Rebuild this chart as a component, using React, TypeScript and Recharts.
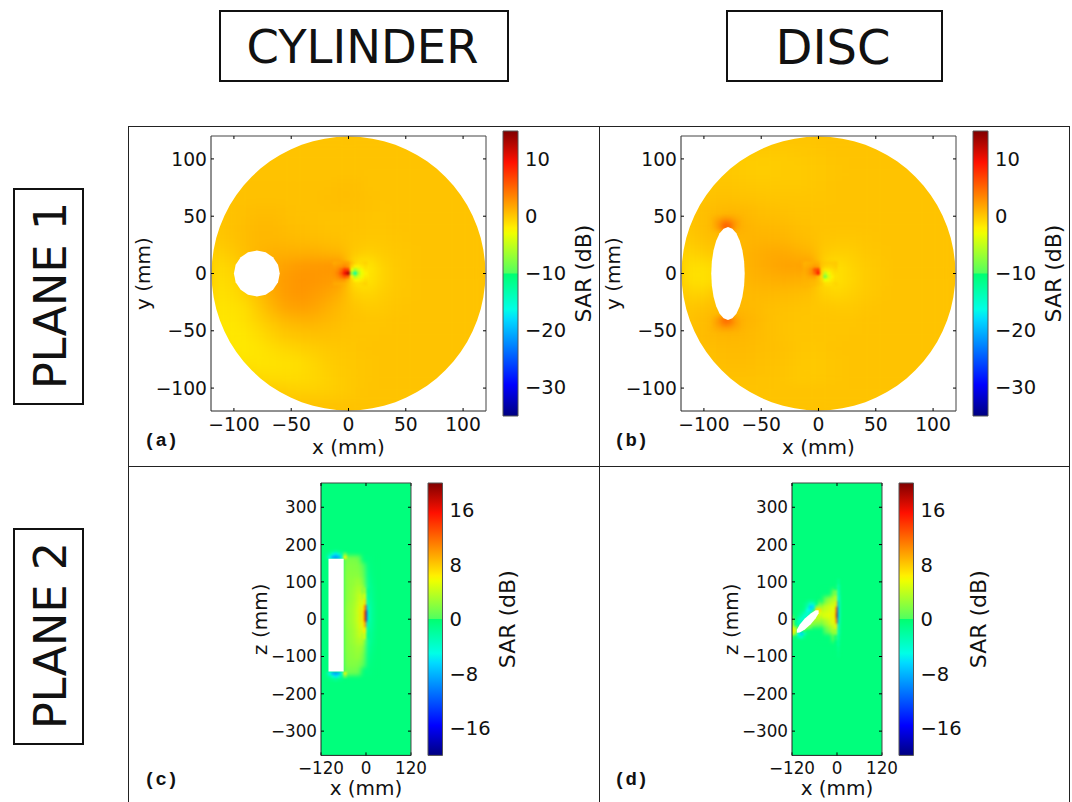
import React from 'react';
import { ScatterChart, Scatter, XAxis, YAxis } from 'recharts';

// jet colour map, split a little at the middle like the figure
const jetPos = [0, 0.11, 0.34, 0.375, 0.4999, 0.5001, 0.64, 0.66, 0.89, 1];
const jetHex = ['#000080', '#0000ff', '#00dbff', '#00ffe6', '#00ff70', '#50ff60', '#eeff00', '#fff000', '#ff1000', '#800000'];

const topTicks = [-100, -50, 0, 50, 100];
const sideTicks = [-120, 0, 120];
const zTicks = [-300, -200, -100, 0, 100, 200, 300];
const barTicksTop = [-30, -20, -10, 0, 10];
const barTicksSide = [-16, -8, 0, 8, 16];

// outlines, in mm
const discMask = [
  [119.5, 0], [119.05, 10.42], [117.68, 20.75], [115.43, 30.93], [112.29, 40.87], [108.3, 50.5], [103.49, 59.75], [97.89, 68.54], [91.54, 76.81],
  [84.5, 84.5], [76.81, 91.54], [68.54, 97.89], [59.75, 103.49], [50.5, 108.3], [40.87, 112.29], [30.93, 115.43], [20.75, 117.68], [10.42, 119.05],
  [0, 119.5], [-10.42, 119.05], [-20.75, 117.68], [-30.93, 115.43], [-40.87, 112.29], [-50.5, 108.3], [-59.75, 103.49], [-68.54, 97.89], [-76.81, 91.54],
  [-84.5, 84.5], [-91.54, 76.81], [-97.89, 68.54], [-103.49, 59.75], [-108.3, 50.5], [-112.29, 40.87], [-115.43, 30.93], [-117.68, 20.75], [-119.05, 10.42],
  [-119.5, 0], [-119.05, -10.42], [-117.68, -20.75], [-115.43, -30.93], [-112.29, -40.87], [-108.3, -50.5], [-103.49, -59.75], [-97.89, -68.54], [-91.54, -76.81],
  [-84.5, -84.5], [-76.81, -91.54], [-68.54, -97.89], [-59.75, -103.49], [-50.5, -108.3], [-40.87, -112.29], [-30.93, -115.43], [-20.75, -117.68], [-10.42, -119.05],
  [0, -119.5], [10.42, -119.05], [20.75, -117.68], [30.93, -115.43], [40.87, -112.29], [50.5, -108.3], [59.75, -103.49], [68.54, -97.89], [76.81, -91.54],
  [84.5, -84.5], [91.54, -76.81], [97.89, -68.54], [103.49, -59.75], [108.3, -50.5], [112.29, -40.87], [115.43, -30.93], [117.68, -20.75], [119.05, -10.42],
  [119.5, 0], [120, 0], [120, -120], [-120, -120], [-120, 120], [120, 120], [120, 0],
];
const squareBase = [[-120, 120], [120, 120], [120, -120], [-120, -120]];
const stripBase = [[-120, 365], [120, 365], [120, -365], [-120, -365]];
const holeA = [
  [-60, 0], [-61.5, 7.7], [-65.9, 14.1], [-72.3, 18.5], [-80, 20], [-87.7, 18.5], [-94.1, 14.1], [-98.5, 7.7],
  [-100, 0], [-98.5, -7.7], [-94.1, -14.1], [-87.7, -18.5], [-80, -20], [-72.3, -18.5], [-65.9, -14.1], [-61.5, -7.7],
];
const holeB = [
  [-64.4, 0], [-64.9, 10.5], [-66.4, 20.3], [-68.7, 28.6], [-71.7, 35.1], [-75.2, 39.1], [-79, 40.5], [-82.8, 39.1], [-86.3, 35.1], [-89.3, 28.6], [-91.6, 20.3], [-93.1, 10.5],
  [-93.6, 0], [-93.1, -10.5], [-91.6, -20.3], [-89.3, -28.6], [-86.3, -35.1], [-82.8, -39.1], [-79, -40.5], [-75.2, -39.1], [-71.7, -35.1], [-68.7, -28.6], [-66.4, -20.3], [-64.9, -10.5],
];
const holeC = [[-100, 162], [-59.5, 162], [-59.5, -140], [-100, -140]];
const holeD = [
  [-49, 24], [-56.9, 23.8], [-70.3, 15.6], [-85.9, 1.6], [-99.3, -14.4], [-107.1, -28.2],
  [-107, -36], [-99.1, -35.8], [-85.7, -27.6], [-70.1, -13.6], [-56.7, 2.4], [-48.9, 16.2],
];

// plane 1 coarse grid (dB)
const coarseX = [-114, -102, -90, -78, -66, -54, -42, -30, -18, -6, 6, 18, 30, 42, 54, 66, 78, 90, 102, 114];
const coarseY = [114, 102, 90, 78, 66, 54, 42, 30, 18, 6, -6, -18, -30, -42, -54, -66, -78, -90, -102, -114];
const sarA = [
  [.3, .3, .3, .3, .3, .3, .3, .3, .3, .3, .3, .3, .3, .3, .3, .3, .3, .3, .3, .3],
  [.3, .3, .3, .3, .3, .3, .3, .3, .3, .3, .3, .3, .3, .3, .3, .3, .3, .3, .3, .3],
  [.3, .3, .3, .3, .3, .3, .3, .3, .3, .3, .3, .3, .3, .3, .3, .3, .3, .3, .3, .3],
  [.3, .3, .4, .4, .4, .4, .4, .4, .4, .5, .5, .3, .3, .3, .3, .3, .3, .3, .3, .3],
  [.3, .4, .4, .4, .4, .4, .4, .4, .5, .6, .5, .4, .3, .3, .3, .3, .3, .3, .3, .3],
  [.3, .4, .5, .6, .6, .5, .4, .4, .4, .4, .4, .3, .2, .3, .3, .3, .3, .3, .3, .3],
  [.2, .4, .6, .8, .8, .6, .5, .4, .3, .3, .3, .2, .2, .3, .3, .3, .3, .3, .3, .3],
  [.1, .3, .6, .9, .9, .8, .7, .6, .5, .4, .2, .1, .1, .2, .3, .3, .3, .3, .3, .3],
  [-.3, 0, .5, 1, 1.3, 1.3, 1.3, 1.3, 1.1, .9, 0, -.3, -.1, .1, .2, .3, .3, .3, .3, .3],
  [-.8, -.5, .2, 1, 1.6, 2.1, 2.4, 2.5, 2.6, 2.9, -1.5, -1.6, -.5, 0, .2, .3, .3, .3, .3, .3],
  [-1, -.8, 0, .9, 1.8, 2.4, 2.7, 2.6, 2.4, 2.2, -1.5, -1.4, -.5, 0, .2, .3, .3, .3, .3, .3],
  [-1.2, -1, -.4, .5, 1.6, 2.3, 2.6, 2.3, 1.9, 1.2, -.3, -.6, -.2, .1, .2, .3, .3, .3, .3, .3],
  [-1.4, -1.3, -1, 0, 1.1, 1.9, 2.1, 1.9, 1.3, .7, .2, -.1, 0, .2, .3, .3, .3, .3, .3, .3],
  [-1.5, -1.5, -1.2, -.5, .2, .8, 1.1, 1.1, .8, .5, .3, .2, .2, .3, .3, .3, .3, .3, .3, .3],
  [-1.3, -1.6, -1.5, -1, -.4, .1, .3, .4, .4, .3, .2, .2, .3, .3, .3, .3, .3, .3, .3, .3],
  [-1, -1.5, -1.6, -1.4, -1, -.7, -.4, -.2, 0, .1, .2, .3, .3, .3, .3, .3, .3, .3, .3, .3],
  [-.8, -1.1, -1.3, -1.4, -1.3, -1.2, -1, -.6, -.2, 0, .1, .2, .3, .3, .3, .3, .3, .3, .3, .3],
  [.2, -.2, -.6, -.9, -1, -1, -.9, -.7, -.4, -.1, .1, .2, .3, .3, .3, .3, .3, .3, .3, .3],
  [.3, .3, .2, 0, -.1, -.3, -.4, -.4, -.3, -.1, .1, .3, .3, .3, .3, .3, .3, .3, .3, .3],
  [.3, .3, .3, .3, .3, .3, .3, .3, .3, .3, .3, .3, .3, .3, .3, .3, .3, .3, .3, .3],
];
const sarB = [
  [.3, .3, .3, .3, .3, .2, .2, .2, .2, .2, .3, .3, .3, .3, .3, .3, .3, .3, .3, .3],
  [.2, .1, 0, -.1, -.1, -.1, -.1, -.1, 0, .1, .2, .3, .3, .3, .3, .3, .3, .3, .3, .3],
  [.2, .1, 0, 0, -.1, -.2, -.2, -.1, -.1, 0, .1, .2, .3, .3, .3, .3, .3, .3, .3, .3],
  [.3, .2, .2, .2, .1, 0, 0, 0, 0, .1, .2, .3, .3, .3, .3, .3, .3, .3, .3, .3],
  [.3, .3, .4, .4, .3, .3, .2, .2, .2, .2, .2, .3, .3, .3, .3, .3, .3, .3, .3, .3],
  [.3, .5, .7, .9, .8, .6, .5, .4, .3, .3, .3, .3, .3, .3, .3, .3, .3, .3, .3, .3],
  [.2, .5, .9, 1.5, 1.2, .9, .8, .7, .5, .4, .3, .3, .3, .3, .3, .3, .3, .3, .3, .3],
  [0, .3, .6, .9, 1, 1.1, 1.1, 1, .7, .5, .2, .1, .1, .2, .3, .3, .3, .3, .3, .3],
  [-.5, -.2, .1, .6, 1, 1.4, 1.6, 1.6, 1.3, 1, -.1, -.3, -.2, .1, .2, .3, .3, .3, .3, .3],
  [-1, -1.2, -.8, .4, 1, 1.4, 1.7, 2, 2, 2.4, -.8, -1.1, -.5, -.1, .1, .3, .3, .3, .3, .3],
  [-1, -1.3, -.9, .3, .9, 1.2, 1.3, 1.4, 1.3, 1.2, -1.2, -1.2, -.6, -.1, .1, .3, .3, .3, .3, .3],
  [-.3, -.5, .1, .5, .7, .8, .8, .7, .6, .4, -.4, -.6, -.3, 0, .2, .3, .3, .3, .3, .3],
  [.2, .3, .6, .9, .9, .7, .5, .4, .3, .2, .1, 0, 0, .2, .3, .3, .3, .3, .3, .3],
  [.4, .6, 1, 1.5, 1.2, .9, .5, .3, .2, .2, .2, .2, .2, .3, .3, .3, .3, .3, .3, .3],
  [.4, .7, .9, 1, .9, .7, .5, .3, .2, .2, .2, .2, .3, .3, .3, .3, .3, .3, .3, .3],
  [.4, .5, .6, .7, .7, .6, .5, .4, .2, .1, .2, .3, .3, .3, .3, .3, .3, .3, .3, .3],
  [.3, .4, .5, .6, .6, .5, .4, .3, .1, 0, .1, .2, .3, .3, .3, .3, .3, .3, .3, .3],
  [.3, .3, .3, .4, .4, .4, .3, .2, 0, 0, .1, .2, .3, .3, .3, .3, .3, .3, .3, .3],
  [.3, .3, .3, .3, .3, .3, .3, .3, .3, .3, .3, .3, .3, .3, .3, .3, .3, .3, .3, .3],
  [.3, .3, .3, .3, .3, .3, .3, .3, .3, .3, .3, .3, .3, .3, .3, .3, .3, .3, .3, .3],
];

// close-up around the source, plane 1
const sourceX = [-12, -9, -6, -3, 0, 3, 6, 9, 12, 15];
const sourceY = [9, 6, 3, 0, -3, -6, -9];
const sourceA = [
  [1.6, 1.8, 2, 2.2, 2, .5, -.5, -1, -.8, -.5],
  [2.2, 2.5, 2.8, 3.4, 2.5, -.3, -2, -2, -1.5, -1],
  [2.6, 3.2, 5, 7.5, 7, -3, -6, -4, -2.5, -1.5],
  [2.8, 3.8, 6, 10, 13, -7, -13, -6, -3, -2],
  [2.6, 3.2, 4.5, 6, 5, -2, -6, -4, -2.6, -1.6],
  [2.2, 2.3, 2.4, 2.3, 1, -.5, -2.2, -2.2, -1.6, -1],
  [1.7, 1.6, 1.5, 1.2, .5, -.3, -.8, -1, -.8, -.5],
];
const sourceB = [
  [1.2, 1.3, 1.4, 1.5, 1.3, .3, 0, -.1, -.1, 0],
  [1.4, 1.6, 1.9, 2.4, 2, .2, -.4, -.5, -.4, -.2],
  [1.6, 2, 3, 6, 7, -.4, -1.5, -1.4, -1, -.6],
  [1.5, 2, 3, 5, 9, -.5, -5, -3, -1.5, -1],
  [1.3, 1.6, 1.8, 2, .8, -1, -8.5, -4, -2, -1.2],
  [1.2, 1.2, 1.1, 1, .4, -.6, -3, -2.5, -1.5, -1],
  [1, 1, .8, .7, .3, -.2, -1, -1.2, -1, -.6],
];
const tipX = [-90, -86, -82, -78, -74, -70];
const tipY = [48, 44, 40, -40, -44, -48];
const tipB = [
  [1.4, 1.8, 2.2, 2.2, 1.8, 1.4],
  [1.8, 3, 4.4, 4.4, 3, 1.8],
  [1.6, 3, 5.5, 5.5, 3, 1.6],
  [1.6, 3, 5, 5, 3, 1.6],
  [1.8, 2.8, 4, 4, 2.8, 1.8],
  [1.4, 1.7, 2, 2, 1.7, 1.4],
];

// plane 2, cylinder
const bgSide = -0.5;
const lobeX = [-54, -42, -30, -18, -6, 6, 18];
const lobeZ = [160, 140, 120, 100, 80, 60, 40, 20, 0, -20, -40, -60, -80, -100, -120, -140];
const sarC = [
  [1.5, 1.5, 1.5, 1, -.5, -.8, -.5],
  [1.8, 1.8, 1.8, 1.6, .3, -1, -.6],
  [2, 2, 2, 2, .8, -1.4, -.7],
  [2, 2.2, 2.4, 2.8, 1.5, -1.8, -.8],
  [2, 2.3, 2.8, 3.4, 3, -2.2, -1],
  [2, 2.4, 3, 4, 4.8, -2.6, -1.1],
  [2.2, 2.6, 3.2, 4.4, 6, -3, -1.3],
  [2.3, 2.7, 3.4, 4.8, 7.5, -3.2, -1.4],
  [2.3, 2.7, 3.4, 4.8, 7.5, -3.2, -1.4],
  [2.2, 2.6, 3.2, 4.4, 6.5, -3, -1.3],
  [2, 2.4, 3, 4, 5, -2.6, -1.1],
  [2, 2.3, 2.8, 3.4, 3.4, -2.2, -1],
  [2, 2.1, 2.4, 2.8, 2, -1.8, -.8],
  [1.8, 2, 2.2, 2.4, 1.2, -1.4, -.7],
  [1.6, 1.8, 1.8, 1.6, .5, -1, -.6],
  [1.2, 1.2, 1.2, .8, -.5, -.8, -.5],
];
const ridgeCX = [-9, -6, -3, 0, 3, 6, 9];
const ridgeCZ = [75, 60, 45, 30, 15, 0, -15, -30, -45];
const ridgeC = [
  [1.5, 2.5, 3, 2.5, -2, -1.5, -1],
  [3, 4, 5, 4, -3, -2, -1.2],
  [4, 5, 7, 8, -4, -3, -1.4],
  [5, 7, 10, 14, -8, -4, -2],
  [6, 8, 12, 18, -12, -5, -2],
  [6, 8, 12, 18, -11, -5, -2],
  [5, 7, 9, 11, -6, -3, -1.6],
  [4, 6, 7, 6, -3, -2, -1.2],
  [3, 4, 5, 4, -2, -1.5, -1],
];
const capX = [-104, -96, -88, -80, -72, -64, -56];
const capZ = [182, 174, 166, -146, -154, -162];
const capC = [
  [-.5, -.8, -1, -1.5, -1, -.8, -.5],
  [-1, -2, -4, -6, -4, -2, 1],
  [-1.5, -5, -8, -9, -8, -4, 6],
  [-1.5, -5, -8, -9, -8, -4, 6],
  [-1, -2, -4, -6, -4, -2, 1],
  [-.5, -.8, -1, -1.5, -1, -.8, -.5],
];

// plane 2, disc
const coneX = [-42, -30, -18, -6];
const coneZ = [70, 50, 30, 10, -10, -30, -50];
const sarD = [
  [-.5, -.5, -.5, 2],
  [-.5, 1.5, 2.8, 4.2],
  [3.5, 4, 4.6, 5.5],
  [5, 5, 5.2, 6.5],
  [2, 3, 4.2, 6],
  [-.5, .5, 2, 4],
  [-.5, -.5, -.5, 1.5],
];
const ridgeDX = [-6, -3, 0, 3, 6, 9];
const ridgeDZ = [100, 85, 70, 55, 40, 25, 10, -5, -20, -35, -50, -65, -80, -95];
const ridgeD = [
  [-.5, -.5, -.5, -1.5, -1.5, -.5],
  [-.5, -.5, 0, -3, -2.5, -.8],
  [1, 1.5, 1.5, -4, -3, -1],
  [3, 4, 4, -6, -3.5, -1.4],
  [4, 6, 8, -9, -4, -1.6],
  [5, 8, 16, -10, -4.5, -1.6],
  [5.5, 9, 18, -10, -4.5, -1.6],
  [5, 8, 14, -9, -4, -1.4],
  [4, 6, 7, -6, -3, -1.2],
  [2, 3, 3, -4, -2.5, -1],
  [-.5, 0, 0, -3, -2, -.8],
  [-.5, -.5, -.5, -2.5, -1.5, -.6],
  [-.5, -.5, -.5, -1.5, -1.2, -.5],
  [-.5, -.5, -.5, -1, -.8, -.5],
];
const tiltX = [-118, -110, -102, -94, -86, -78, -70, -62, -54, -46];
const tiltZ = [48, 40, 32, 24, 16, 8, 0, -8, -16, -24, -32, -40, -48];
const tiltD = [
  [-.5, -.5, -.5, -.5, -.5, -1, -1.5, -1.2, -.5, 0],
  [-.5, -.5, -.5, -.5, -1, -2, -4, -3.5, -1, 1],
  [-.5, -.5, -.5, -.5, -1, -3, -7, -6, 2, 3],
  [-.5, -.5, -.5, -.8, -1.5, -5, -6, -2, 7, 7],
  [-.5, -.5, -.8, -1.5, -3, -4, -3, 2, 6, 5.5],
  [0, -.5, -1.5, -2.5, -4, -4, 0, 3.5, 4, 4.5],
  [1, -.8, -2.5, -4, -4, -1, 2.5, 3.5, 3.5, 3.5],
  [2, -.8, -3, -3.5, -1, 2.5, 3, 2.5, 2.5, 2.5],
  [3, -1, -2.5, -2, 1, 2.5, 2, 1.5, 1, 1],
  [5, 3, 0, 1, 2.5, 1.5, .5, 0, 0, 0],
  [7, 5, -2, -1, 0, -.5, -.5, -.5, -.5, -.5],
  [5, 2, -5, -7, -3, -1, -.5, -.5, -.5, -.5],
  [0, -.5, -2.5, -3, -1.2, -.5, -.5, -.5, -.5, -.5],
];

const FONT = '"DejaVu Sans"';
const minus = (v: number) => String(v).replace('-', '\u2212');
const blank = () => '';

function hexRgb(h: string) {
  return [1, 3, 5].map((i) => parseInt(h.slice(i, i + 2), 16));
}

function jet(t: number) {
  const c = Math.min(1, Math.max(0, t));
  let i = 0;
  while (i < jetPos.length - 2 && c > jetPos[i + 1]) i++;
  const f = (c - jetPos[i]) / (jetPos[i + 1] - jetPos[i]);
  const a = hexRgb(jetHex[i]);
  const b = hexRgb(jetHex[i + 1]);
  return `rgb(${a.map((v, k) => Math.round(v + (b[k] - v) * f)).join(',')})`;
}

const toCells = (xs: number[], ys: number[], rows: number[][]) =>
  rows.flatMap((row, i) => row.map((v, j) => ({ x: xs[j], y: ys[i], v })));
const toPoints = (pts: number[][]) => pts.map(([x, y]) => ({ x, y }));

const NoDot = () => <g />;

function polygon(key: string, pts: number[][], fill: string, closed = true) {
  return (
    <Scatter
      key={key}
      data={toPoints(pts)}
      shape={NoDot}
      line={{ fill, stroke: 'none' }}
      lineJointType={closed ? 'linearClosed' : 'linear'}
      isAnimationActive={false}
    />
  );
}

function heatLayer(key: string, cells: any[], w: number, h: number, range: number[], blur: string) {
  const shape = (p: any) => {
    const t = (p.payload.v - range[0]) / (range[1] - range[0]);
    return <rect x={p.cx - w / 2 - 0.25} y={p.cy - h / 2 - 0.25} width={w + 0.5} height={h + 0.5} fill={jet(t)} />;
  };
  return <Scatter key={key} className={blur} data={cells} shape={shape} isAnimationActive={false} />;
}

const tickStyle = { stroke: '#000' };

function Plot({ left, top, w, h, xDomain, yDomain, xTicks, yTicks, yName, tickFont, xLabelOffset, yLabelOffset, children }: any) {
  const corners = [{ x: xDomain[0], y: yDomain[0] }, { x: xDomain[1], y: yDomain[1] }];
  return (
    <div style={{ position: 'absolute', left: left - 70, top: top - 10, width: w + 80, height: h + 70 }}>
      <div style={{ position: 'absolute', left: 0, top: 0 }}>
        <ScatterChart width={w + 80} height={h + 70} margin={{ top: 10, right: 10, left: 70, bottom: 60 }}>
          <XAxis dataKey="x" type="number" domain={xDomain} allowDataOverflow hide />
          <YAxis dataKey="y" type="number" domain={yDomain} allowDataOverflow hide />
          {children}
        </ScatterChart>
      </div>
      <div style={{ position: 'absolute', left: 0, top: 0 }}>
        <ScatterChart width={w + 80} height={h + 70} margin={{ top: 9, right: 9, left: 0, bottom: 0 }}>
          <XAxis
            dataKey="x"
            type="number"
            domain={xDomain}
            ticks={xTicks}
            interval={0}
            height={60}
            stroke="#222"
            tickLine={tickStyle}
            tickSize={-3}
            tickMargin={10}
            tickFormatter={minus}
            tick={{ fontSize: tickFont, fontFamily: FONT, fill: '#111' }}
            label={{ value: 'x (mm)', position: 'insideBottom', offset: xLabelOffset, fontSize: 20, fontFamily: FONT, fill: '#111' }}
          />
          <YAxis
            dataKey="y"
            type="number"
            domain={yDomain}
            ticks={yTicks}
            interval={0}
            width={70}
            stroke="#222"
            tickLine={tickStyle}
            tickSize={-3}
            tickMargin={7}
            tickFormatter={minus}
            tick={{ fontSize: tickFont, fontFamily: FONT, fill: '#111' }}
            label={{ value: yName, angle: -90, position: 'insideLeft', offset: yLabelOffset, textAnchor: 'middle', style: { textAnchor: 'middle' }, fontSize: 20, fontFamily: FONT, fill: '#111' }}
          />
          <XAxis dataKey="x" xAxisId="top" orientation="top" type="number" domain={xDomain} ticks={xTicks} interval={0} height={1} stroke="#444" tickLine={tickStyle} tickSize={-3} tickFormatter={blank} />
          <YAxis dataKey="y" yAxisId="right" orientation="right" type="number" domain={yDomain} ticks={yTicks} interval={0} width={1} stroke="#444" tickLine={tickStyle} tickSize={-3} tickFormatter={blank} />
          <Scatter data={corners} shape={NoDot} isAnimationActive={false} />
          <Scatter data={corners} xAxisId="top" yAxisId="right" shape={NoDot} isAnimationActive={false} />
        </ScatterChart>
      </div>
    </div>
  );
}

function ColorBar({ left, top, w, h, domain, ticks }: any) {
  const bar = [[0, domain[0]], [1, domain[0]], [1, domain[1]], [0, domain[1]]];
  return (
    <div style={{ position: 'absolute', left, top }}>
      <ScatterChart width={w + 80} height={h} margin={{ top: 0, right: 0, left: 0, bottom: 0 }}>
        <XAxis type="number" dataKey="x" domain={[0, 1]} hide />
        <YAxis
          dataKey="y"
          type="number"
          orientation="right"
          domain={domain}
          ticks={ticks}
          interval={0}
          width={80}
          stroke="#222"
          axisLine={false}
          tickLine={tickStyle}
          tickSize={-3}
          tickMargin={10}
          tickFormatter={minus}
          tick={{ fontSize: 19.5, fontFamily: FONT, fill: '#111' }}
          label={{ value: 'SAR (dB)', angle: -90, position: 'insideRight', offset: 15, textAnchor: 'middle', style: { textAnchor: 'middle' }, fontSize: 22, fontFamily: FONT, fill: '#111' }}
        />
        <Scatter
          data={toPoints(bar)}
          shape={NoDot}
          line={{ fill: 'url(#jetBar)', stroke: '#555', strokeWidth: 1 }}
          lineJointType="linearClosed"
          isAnimationActive={false}
        />
      </ScatterChart>
    </div>
  );
}

const boxStyle = {
  position: 'absolute',
  border: '2px solid #111',
  boxSizing: 'border-box',
  background: '#fff',
  display: 'flex',
  alignItems: 'center',
  justifyContent: 'center',
  fontFamily: FONT,
  color: '#111',
} as React.CSSProperties;

function Title({ left, top, width, height, size, children }: any) {
  return <div style={{ ...boxStyle, left, top, width, height, fontSize: size, paddingRight: 3, paddingTop: 2 }}>{children}</div>;
}

function SideTitle({ left, top, width, height, children }: any) {
  return (
    <div style={{ ...boxStyle, left, top, width, height, fontSize: 44.5 }}>
      <span style={{ transform: 'translate(2px,-1px) rotate(-90deg)', whiteSpace: 'nowrap' }}>{children}</span>
    </div>
  );
}

function Tag({ left, top, children }: any) {
  return (
    <div style={{ position: 'absolute', left, top, fontFamily: '"Liberation Mono"', fontWeight: 700, fontSize: 19, color: '#111' }}>
      {children}
    </div>
  );
}

function Line({ left, top, width, height }: any) {
  return <div style={{ position: 'absolute', left, top, width, height, background: '#222' }} />;
}

const topRange = [-35, 15];
const sideRange = [-20, 20];
const PX_TOP = 275 / 240;
const PX_SIDE_X = 90 / 240;
const PX_SIDE_Z = 272.4 / 730;

const orangeBase = jet((0.3 - topRange[0]) / 50);
const greenBase = jet((bgSide - sideRange[0]) / 40);

export default function App() {
  return (
    <div style={{ position: 'absolute', left: 0, top: 0, width: 1072, height: 802, overflow: 'hidden', background: '#fff' }}>
      <style>{`
        .soft { filter: url(#soft); }
        .mid { filter: url(#mid); }
        .fine { filter: url(#fine); }
        .recharts-surface { overflow: visible; }
      `}</style>
      <svg width={0} height={0} style={{ position: 'absolute' }}>
        <defs>
          <filter id="soft" x="-10%" y="-10%" width="120%" height="120%" colorInterpolationFilters="sRGB">
            <feGaussianBlur stdDeviation={6} />
          </filter>
          <filter id="mid" x="-20%" y="-20%" width="140%" height="140%" colorInterpolationFilters="sRGB">
            <feGaussianBlur stdDeviation={2} />
          </filter>
          <filter id="fine" x="-30%" y="-30%" width="160%" height="160%" colorInterpolationFilters="sRGB">
            <feGaussianBlur stdDeviation={1} />
          </filter>
          <linearGradient id="jetBar" x1="0" y1="1" x2="0" y2="0">
            {jetPos.map((p, i) => (
              <stop key={i} offset={p} stopColor={jetHex[i]} />
            ))}
          </linearGradient>
        </defs>
      </svg>

      <Title left={219} top={10} width={290} height={72} size={46.5}>CYLINDER</Title>
      <Title left={726} top={10} width={217} height={72} size={48}>DISC</Title>
      <SideTitle left={13} top={188} width={71} height={217}>PLANE 1</SideTitle>
      <SideTitle left={13} top={528} width={71} height={217}>PLANE 2</SideTitle>

      <Line left={128} top={126} width={942} height={1} />
      <Line left={128} top={466} width={942} height={1} />
      <Line left={128} top={126} width={1} height={676} />
      <Line left={599} top={126} width={1} height={676} />
      <Line left={1069} top={126} width={1} height={676} />

      <Plot left={211} top={136} w={275} h={275} xDomain={[-120, 120]} yDomain={[-120, 120]} xTicks={topTicks} yTicks={topTicks} yName="y (mm)" tickFont={18.7} xLabelOffset={17} yLabelOffset={2}>
        {polygon('base', squareBase, orangeBase)}
        {heatLayer('grid', toCells(coarseX, coarseY, sarA), 12 * PX_TOP, 12 * PX_TOP, topRange, 'soft')}
        {heatLayer('src', toCells(sourceX, sourceY, sourceA), 3 * PX_TOP, 3 * PX_TOP, topRange, 'fine')}
        {polygon('hole', holeA, '#fff')}
        {polygon('mask', discMask, '#fff', false)}
      </Plot>
      <ColorBar left={503} top={131} w={15} h={285} domain={topRange} ticks={barTicksTop} />
      <Tag left={144} top={430}>(a)</Tag>

      <Plot left={681} top={136} w={275} h={275} xDomain={[-120, 120]} yDomain={[-120, 120]} xTicks={topTicks} yTicks={topTicks} yName="y (mm)" tickFont={18.7} xLabelOffset={17} yLabelOffset={2}>
        {polygon('base', squareBase, orangeBase)}
        {heatLayer('grid', toCells(coarseX, coarseY, sarB), 12 * PX_TOP, 12 * PX_TOP, topRange, 'soft')}
        {heatLayer('tips', toCells(tipX, tipY, tipB), 4 * PX_TOP, 4 * PX_TOP, topRange, 'mid')}
        {heatLayer('src', toCells(sourceX, sourceY, sourceB), 3 * PX_TOP, 3 * PX_TOP, topRange, 'fine')}
        {polygon('hole', holeB, '#fff')}
        {polygon('mask', discMask, '#fff', false)}
      </Plot>
      <ColorBar left={973} top={131} w={15} h={285} domain={topRange} ticks={barTicksTop} />
      <Tag left={614} top={430}>(b)</Tag>

      <Plot left={321} top={483} w={90} h={272.4} xDomain={[-120, 120]} yDomain={[-365, 365]} xTicks={sideTicks} yTicks={zTicks} yName="z (mm)" tickFont={16.8} xLabelOffset={20} yLabelOffset={9}>
        {polygon('base', stripBase, greenBase)}
        {heatLayer('lobe', toCells(lobeX, lobeZ, sarC), 12 * PX_SIDE_X, 20 * PX_SIDE_Z, sideRange, 'mid')}
        {heatLayer('ridge', toCells(ridgeCX, ridgeCZ, ridgeC), 3 * PX_SIDE_X, 15 * PX_SIDE_Z, sideRange, 'fine')}
        {heatLayer('caps', toCells(capX, capZ, capC), 8 * PX_SIDE_X, 8 * PX_SIDE_Z, sideRange, 'fine')}
        {polygon('hole', holeC, '#fff')}
      </Plot>
      <ColorBar left={428} top={483} w={14.5} h={272.4} domain={sideRange} ticks={barTicksSide} />
      <Tag left={144} top={769}>(c)</Tag>

      <Plot left={791.5} top={483} w={90} h={272.4} xDomain={[-120, 120]} yDomain={[-365, 365]} xTicks={sideTicks} yTicks={zTicks} yName="z (mm)" tickFont={16.8} xLabelOffset={20} yLabelOffset={9}>
        {polygon('base', stripBase, greenBase)}
        {heatLayer('cone', toCells(coneX, coneZ, sarD), 12 * PX_SIDE_X, 20 * PX_SIDE_Z, sideRange, 'mid')}
        {heatLayer('tilt', toCells(tiltX, tiltZ, tiltD), 8 * PX_SIDE_X, 8 * PX_SIDE_Z, sideRange, 'fine')}
        {heatLayer('ridge', toCells(ridgeDX, ridgeDZ, ridgeD), 3 * PX_SIDE_X, 15 * PX_SIDE_Z, sideRange, 'fine')}
        {polygon('hole', holeD, '#fff')}
      </Plot>
      <ColorBar left={898.5} top={483} w={14.5} h={272.4} domain={sideRange} ticks={barTicksSide} />
      <Tag left={614} top={769}>(d)</Tag>
    </div>
  );
}
